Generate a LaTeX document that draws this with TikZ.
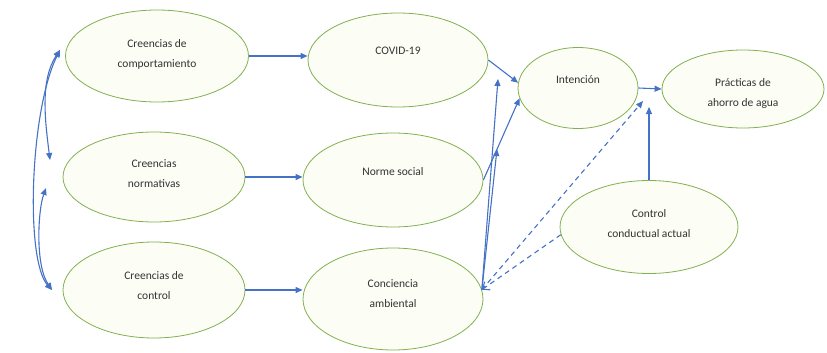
\documentclass[tikz,border=0pt]{standalone}
\usepackage{fontspec}
\setmainfont{Carlito}
\usetikzlibrary{shapes.geometric,arrows.meta}
\definecolor{arrblue}{RGB}{68,114,196}
\definecolor{ovgreen}{RGB}{130,176,80}
\definecolor{ovfill}{RGB}{252,253,245}

\begin{document}
\begin{tikzpicture}[x=1pt,y=1pt,
    >={Triangle[length=7pt,width=6pt]},
    var/.style={ellipse,draw=ovgreen,fill=ovfill,line width=0.8pt,inner sep=0pt,
      align=center,text height=28pt,text=black!80,font=\fontsize{11.5}{20}\selectfont},
    onevar/.style={var,text height=8pt},
    link/.style={draw=arrblue,line width=1.1pt},
    dlink/.style={link,dash pattern=on 5pt off 4pt}]
    \useasboundingbox (0,0) rectangle (827,-353);

    \node[var,minimum width=183pt,minimum height=92pt,text depth=5pt] (A) at (157,-56) {Creencias de\\comportamiento};
    \node[var,minimum width=182pt,minimum height=90pt,text depth=8pt] (B) at (154,-177) {Creencias\\normativas};
    \node[var,minimum width=182pt,minimum height=96pt,text depth=10pt] (C) at (154,-290) {Creencias de\\control};
    \node[onevar,minimum width=180pt,minimum height=94pt,text depth=18pt] (D) at (398,-60) {COVID-19};
    \node[onevar,minimum width=180pt,minimum height=94pt,text depth=18pt] (E) at (393,-180) {Norme social};
    \node[var,minimum width=180pt,minimum height=102pt,text depth=12pt] (F) at (393,-299) {Conciencia\\ambiental};
    \node[onevar,minimum width=120pt,minimum height=81pt,text depth=16pt] (G) at (578,-88) {Intención};
    \node[var,minimum width=162pt,minimum height=78pt,text height=34pt,text depth=0pt] (H) at (743,-89) {Prácticas de\\ahorro de agua};
    \node[var,minimum width=178pt,minimum height=93pt,text depth=8pt] (I) at (649,-227) {Control\\conductual actual};

    \coordinate (la) at (60,-50);
    \coordinate (lb1) at (50,-160);
    \coordinate (lb2) at (46,-188);
    \coordinate (lc) at (52,-290);
    \coordinate (p1) at (498,-79);
    \coordinate (p2) at (497,-149);
    \coordinate (q) at (643,-101);
    \coordinate (r) at (649,-107);

    \draw[link,<->] (la) .. controls (40,-80) and (45,-120) .. (lb1);
    \draw[link,<->] (la) .. controls (30,-110) and (25,-260) .. (lc);
    \draw[link,<->] (lb2) .. controls (38,-210) and (35,-265) .. (lc);

    \draw[link,->] (A.east) -- (A.east -| D.west);
    \draw[link,->] (B.east) -- (B.east -| E.west);
    \draw[link,->] (C.east) -- (C.east -| F.west);
    \draw[link,->] (D.east) -- (G.175);
    \draw[link,->] (E.east) -- (G.190);
    \draw[link,->] (F.6) -- (p1);
    \draw[link,->] (F.6) -- (p2);
    \draw[dlink,->] (F.6) -- (q);
    \draw[dlink,-{Straight Barb[length=6pt,width=10pt]}] (I.185) -- (F.6);
    \draw[link,->] (G.east) -- (H.west);
    \draw[link,->] (I.north) -- (r);
\end{tikzpicture}
\end{document}
